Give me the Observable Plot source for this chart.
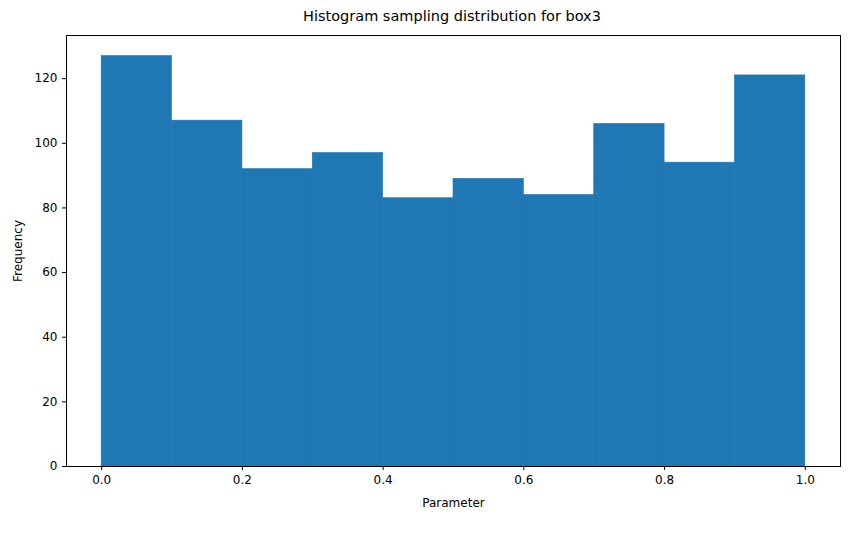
<!DOCTYPE html>
<html><head><meta charset="utf-8">
<script src="https://cdn.jsdelivr.net/npm/d3@7"></script>
<script src="https://cdn.jsdelivr.net/npm/@observablehq/plot@0.6"></script>
<style>body{margin:0;background:#fff;font-family:"DejaVu Sans",sans-serif}
#wrap{position:relative;width:850px;height:547px}
#title{position:absolute;top:8px;left:66px;width:772px;text-align:center;font-size:14.5px;color:#000}</style>
</head><body><div id="wrap"><div id="title">Histogram sampling distribution for box3</div></div>
<script>
const binStarts = [0,0.1,0.2,0.3,0.4,0.5,0.6,0.7,0.8,0.9];
const binEnds = [0.1,0.2,0.3,0.4,0.5,0.6,0.7,0.8,0.9,1.0];
const counts = [127,107,92,97,83,89,84,106,94,121];
const xTicks = [0,0.2,0.4,0.6,0.8,1.0];
const yTicks = [0,20,40,60,80,100,120];
const data = counts.map((c,i)=>({x1:binStarts[i],x2:binEnds[i],y:c}));
const chart = Plot.plot({
  width:850,height:547,marginLeft:66,marginRight:10,marginTop:35,marginBottom:81,
  style:{fontFamily:"DejaVu Sans",fontSize:"12px",color:"#000"},
  x:{domain:[-0.05,1.05],ticks:xTicks,tickFormat:d3.format(".1f"),label:"Parameter",labelAnchor:"center",labelArrow:"none",labelOffset:40,tickSize:4},
  y:{domain:[0,133.35],ticks:yTicks,label:"Frequency",labelAnchor:"center",labelArrow:"none",labelOffset:53,tickSize:4},
  marks:[
    Plot.rectY(data,{x1:"x1",x2:"x2",y:"y",fill:"#1f77b4",stroke:"#1f77b4",strokeWidth:0.6,insetLeft:0,insetRight:0}),
    Plot.frame({stroke:"#000"})
  ]
});
document.getElementById("wrap").prepend(chart);
</script></body></html>
